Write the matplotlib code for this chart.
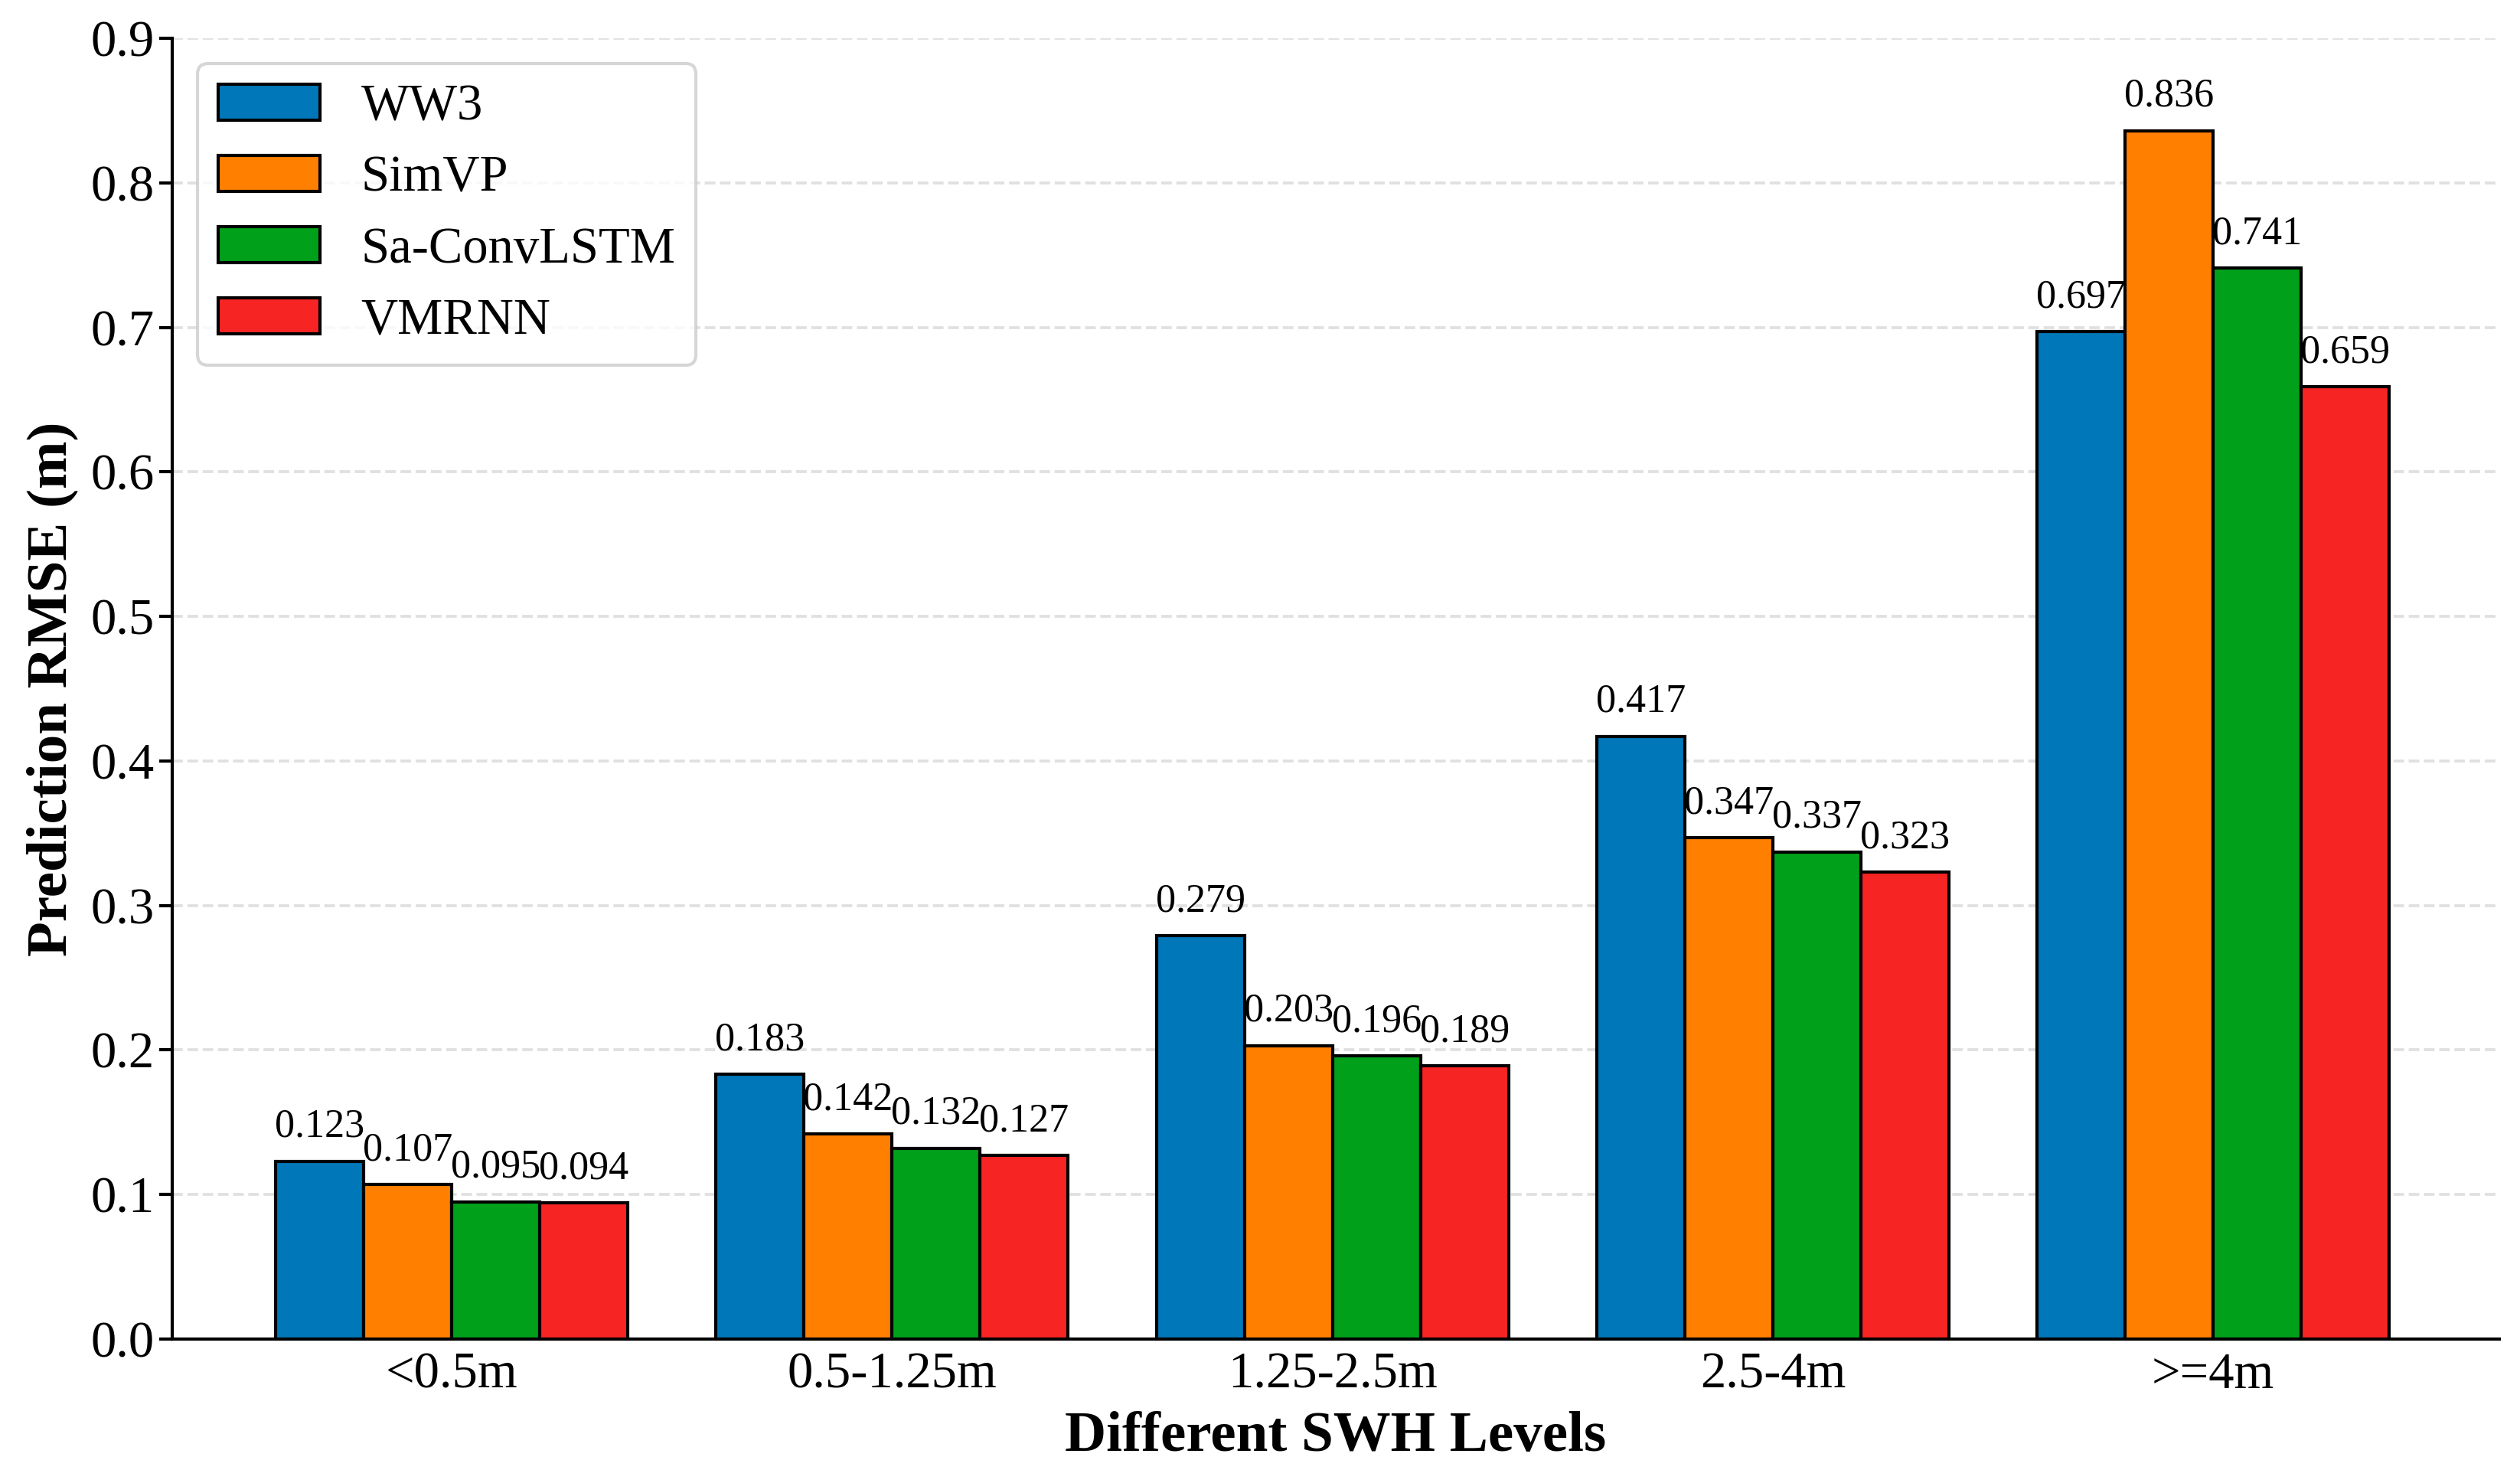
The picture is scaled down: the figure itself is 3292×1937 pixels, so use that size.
import matplotlib
matplotlib.use("Agg")
import matplotlib.pyplot as plt
import numpy as np

categories = ["<0.5m", "0.5-1.25m", "1.25-2.5m", "2.5-4m", ">=4m"]
models = ["WW3", "SimVP", "Sa-ConvLSTM", "VMRNN"]
ww3 = [0.123, 0.183, 0.279, 0.417, 0.697]
simvp = [0.107, 0.142, 0.203, 0.347, 0.836]
saconvlstm = [0.095, 0.132, 0.196, 0.337, 0.741]
vmrnn = [0.094, 0.127, 0.189, 0.323, 0.659]
series = [ww3, simvp, saconvlstm, vmrnn]
colors = ["#0077B8", "#FF8000", "#00A01B", "#F72424"]
yticks = [0.0, 0.1, 0.2, 0.3, 0.4, 0.5, 0.6, 0.7, 0.8, 0.9]

plt.rcParams['font.family'] = ['Liberation Serif', 'DejaVu Serif']

fig = plt.figure(figsize=(3292/300, 1937/300), dpi=300)
ax = fig.add_axes([0.0683, 0.0971, 0.9918-0.0683, 0.9742-0.0971])

x = np.arange(len(categories))
w = 0.2
for i, (vals, name, c) in enumerate(zip(series, models, colors)):
    pos = x + (i - 1.5) * w
    bars = ax.bar(pos, vals, w, color=c, edgecolor='black', linewidth=1.0, label=name, zorder=3)
    for b, v in zip(bars, vals):
        ax.annotate(f"{v:g}", (b.get_x() + b.get_width()/2, v), xytext=(0, 5),
                    textcoords='offset points', ha='center', va='bottom', fontsize=12.5, zorder=4)

ax.set_xlim(-0.635, 4.65)
ax.set_ylim(0, 0.9)
ax.set_yticks(yticks)
ax.set_yticklabels([f"{t:.1f}" for t in yticks])
ax.set_xticks(x)
ax.set_xticklabels(categories)
ax.tick_params(axis='y', labelsize=16, length=4, width=1.0, direction='out', pad=1.5)
ax.tick_params(axis='x', labelsize=16, length=0, pad=4)
ax.yaxis.grid(True, linestyle='--', color='#e0e0e0', linewidth=0.9, zorder=0)
ax.set_axisbelow(True)
for s in ['top', 'right']:
    ax.spines[s].set_visible(False)
for s in ['left', 'bottom']:
    ax.spines[s].set_linewidth(1.0)

ax.set_xlabel("Different SWH Levels", fontsize=18, fontweight='bold', labelpad=4)
ax.set_ylabel("Prediction RMSE (m)", fontsize=18, fontweight='bold')

leg = ax.legend(loc='upper left', fontsize=16, frameon=True, borderaxespad=0.5,
                fancybox=True, edgecolor='#cccccc', labelspacing=0.48, handlelength=2.0,
                handletextpad=0.8, borderpad=0.4)
leg.get_frame().set_linewidth(1.0)

fig.savefig("out.png", dpi=300)
